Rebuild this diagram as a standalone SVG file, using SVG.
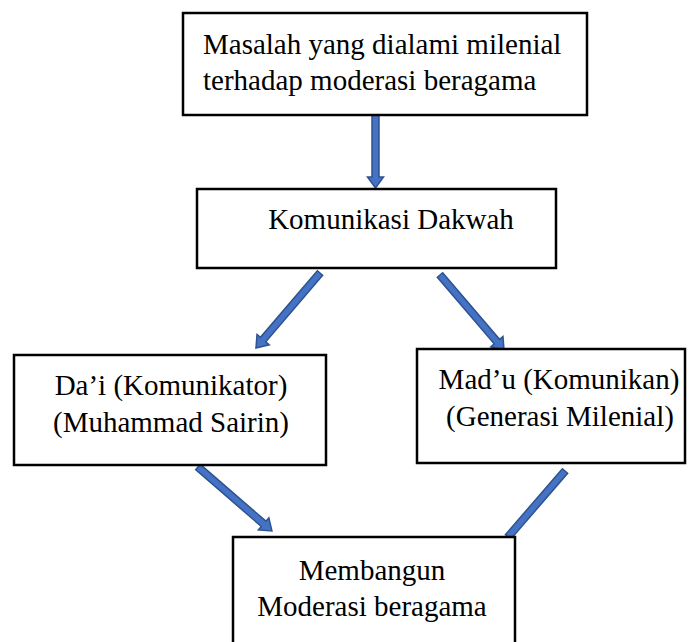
<svg xmlns="http://www.w3.org/2000/svg" width="696" height="642" viewBox="0 0 696 642">
<style>
.box{fill:#fff;stroke:#000;stroke-width:2.5}
.t{font-family:"Liberation Serif","Times New Roman",serif;font-size:29px;fill:#000}
.c{text-anchor:middle}
.arr{fill:#4472C4;stroke:#2F528F;stroke-width:1.5;stroke-linejoin:miter}
</style>
<rect width="696" height="642" fill="#fff"/>
<g id="connectors">
<path class="arr" transform="translate(375.5,115) rotate(90)" d="M0,-3.5 H62 V-8 L73,0 L62,8 V3.5 H0 Z"/>
<path class="arr" transform="translate(320,273) rotate(130.5)" d="M0,-3.5 H87.6 V-8 L98.6,0 L87.6,8 V3.5 H0 Z"/>
<path class="arr" transform="translate(440,275) rotate(49.5)" d="M0,-3.5 H87.6 V-8 L98.6,0 L87.6,8 V3.5 H0 Z"/>
<path class="arr" transform="translate(198,467) rotate(40.9)" d="M0,-3.5 H86.8 V-8 L97.8,0 L86.8,8 V3.5 H0 Z"/>
<path class="arr" transform="translate(565,471) rotate(130.8)" d="M0,-3.5 H87.2 V3.5 H0 Z"/>
</g>
<g id="node-masalah">
<rect class="box" x="183" y="13" width="404" height="102"/>
<text class="t" x="203" y="54">Masalah yang dialami milenial</text>
<text class="t" x="203" y="90">terhadap moderasi beragama</text>
</g>
<g id="node-komunikasi">
<rect class="box" x="197" y="189" width="359" height="79"/>
<text class="t c" x="391" y="229">Komunikasi Dakwah</text>
</g>
<g id="node-dai">
<rect class="box" x="14" y="355" width="312" height="110"/>
<text class="t c" x="171" y="395">Da’i (Komunikator)</text>
<text class="t c" x="171" y="432">(Muhammad Sairin)</text>
</g>
<g id="node-madu">
<rect class="box" x="417" y="349" width="268" height="114"/>
<text class="t c" x="559" y="389">Mad’u (Komunikan)</text>
<text class="t c" x="560" y="426">(Generasi Milenial)</text>
</g>
<g id="node-membangun">
<rect class="box" x="233" y="537" width="282" height="110"/>
<text class="t c" x="372" y="580">Membangun</text>
<text class="t c" x="372" y="616">Moderasi beragama</text>
</g>
</svg>
